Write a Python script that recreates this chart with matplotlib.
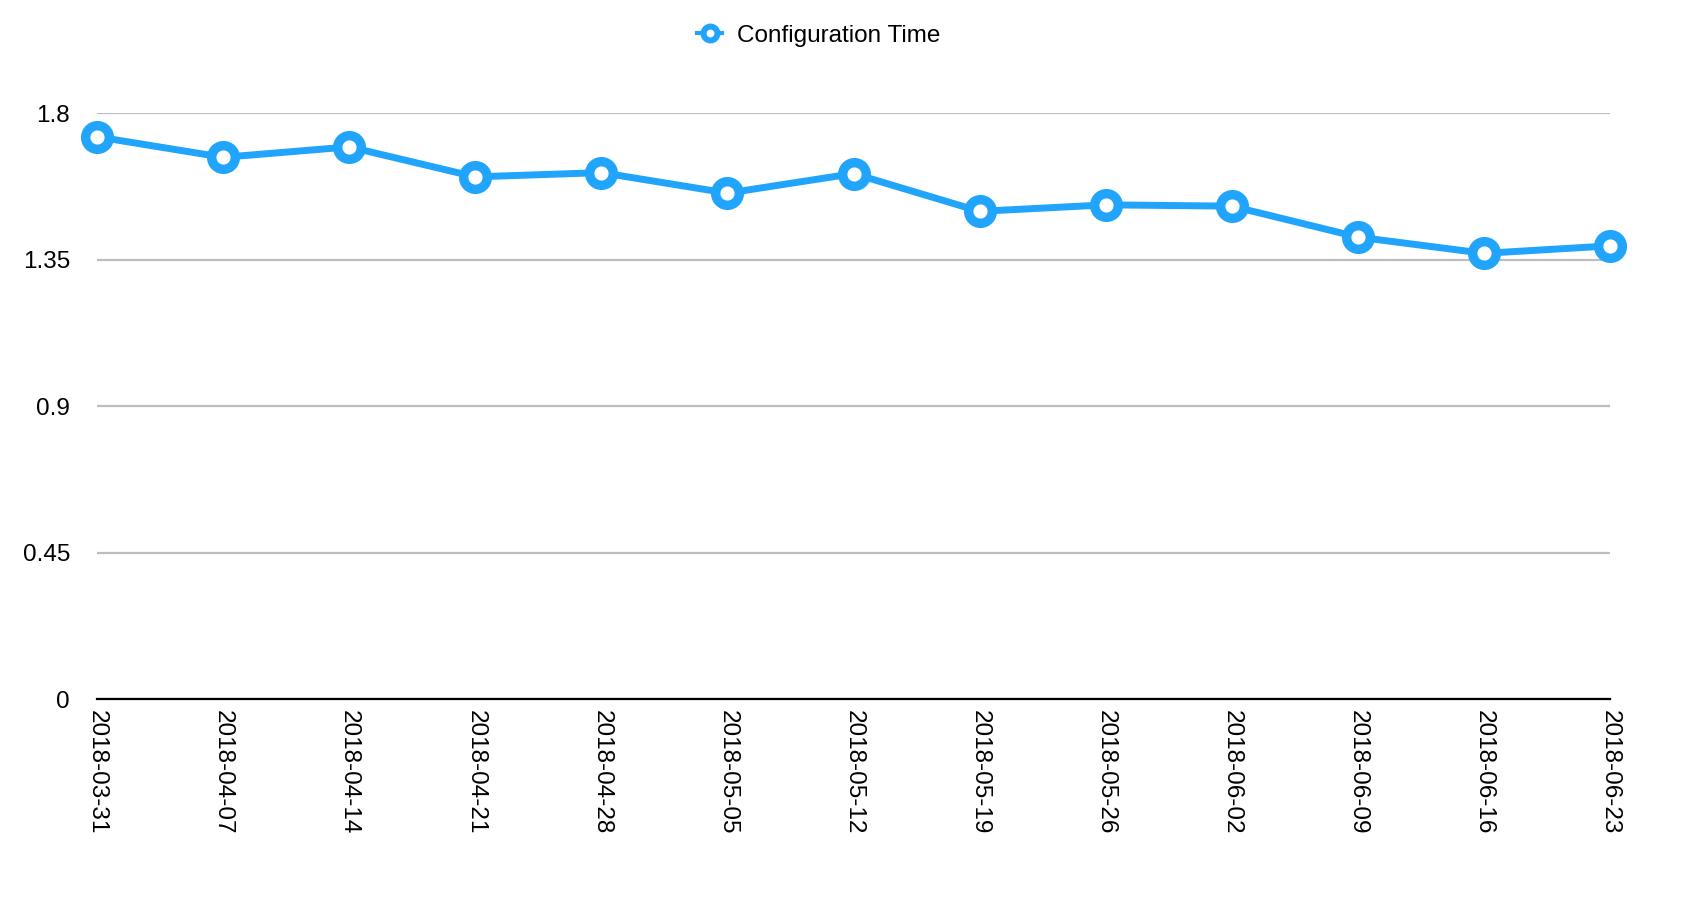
import matplotlib.pyplot as plt
from matplotlib.lines import Line2D

dates = ['2018-03-31', '2018-04-07', '2018-04-14', '2018-04-21', '2018-04-28',
         '2018-05-05', '2018-05-12', '2018-05-19', '2018-05-26', '2018-06-02',
         '2018-06-09', '2018-06-16', '2018-06-23']
config_time = [1.727, 1.664, 1.696, 1.604, 1.617, 1.554, 1.614,
               1.498, 1.518, 1.514, 1.419, 1.369, 1.392]
yticks = [0, 0.45, 0.9, 1.35, 1.8]
ytick_labels = ['0', '0.45', '0.9', '1.35', '1.8']

blue = '#20A4FC'
plt.rcParams['font.family'] = ['Liberation Sans', 'DejaVu Sans']

fig = plt.figure(figsize=(16.9, 9), dpi=100)
ax = fig.add_axes([0.0574, 0.2233, 0.8953, 0.6511])

x = range(len(dates))
ax.plot(x, config_time, color=blue, linewidth=5, marker='o', markersize=17,
        markerfacecolor='white', markeredgecolor=blue, markeredgewidth=6.8,
        clip_on=False, zorder=3)

ax.set_xlim(0, len(dates) - 1)
ax.set_ylim(0, 1.8)
ax.set_yticks(yticks)
ax.set_yticklabels(ytick_labels)
ax.set_xticks(list(x))
ax.set_xticklabels(dates, rotation=270, va='top', ha='center')

ax.grid(axis='y', color='#bdbdbd', linewidth=1.6)
ax.set_axisbelow(True)
for s in ['top', 'right', 'left']:
    ax.spines[s].set_visible(False)
ax.spines['bottom'].set_color('black')
ax.spines['bottom'].set_linewidth(1.6)
ax.spines['bottom'].set_zorder(2)
ax.tick_params(axis='both', length=0, labelsize=17.5, colors='black')
ax.tick_params(axis='y', pad=19.5)
ax.tick_params(axis='x', pad=8)

handle = Line2D([], [], color=blue, linewidth=3, marker='o', markersize=10,
                markerfacecolor='white', markeredgecolor=blue, markeredgewidth=4.3)
fig.legend([handle], ['Configuration Time'], loc='center',
           bbox_to_anchor=(0.4846, 0.9605), frameon=False, fontsize=17.5,
           handlelength=1.0, handletextpad=0.64)

fig.savefig('out.png', dpi=100)
